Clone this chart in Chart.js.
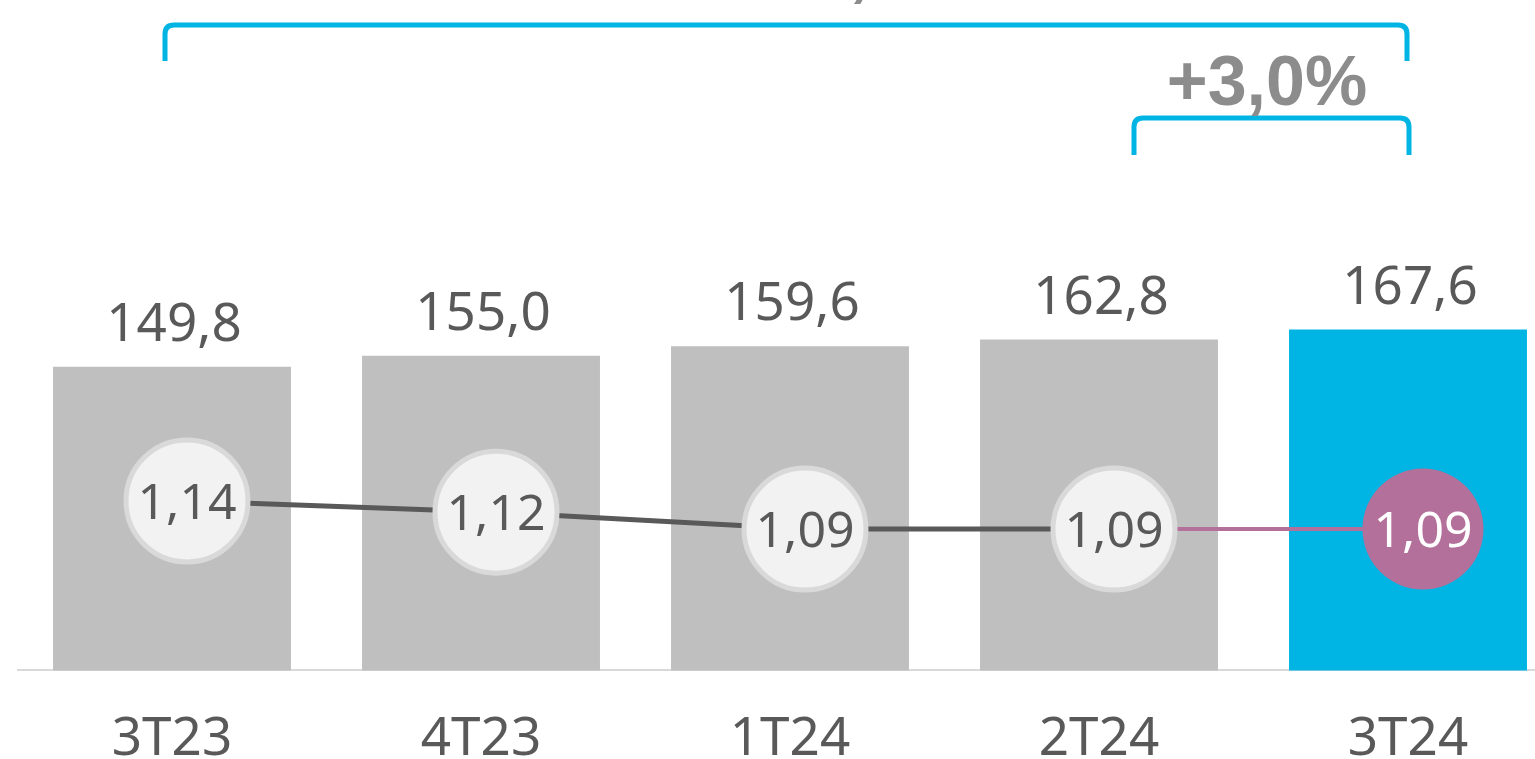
<!DOCTYPE html>
<html>
<head>
<meta charset="utf-8">
<script src="https://cdn.jsdelivr.net/npm/chart.js@4.4.1/dist/chart.umd.min.js"></script>
<style>
  html, body { margin: 0; padding: 0; background: #fff; overflow: hidden; }
  #wrap { width: 1563px; height: 771px; }
</style>
</head>
<body>
<div id="wrap"><canvas id="myChart" width="1563" height="771"></canvas></div>
<script>
// data
const quarters = ['3T23', '4T23', '1T24', '2T24', '3T24'];
const volume = [149.8, 155.0, 159.6, 162.8, 167.6];
const ratio = [1.14, 1.12, 1.09, 1.09, 1.09];
const growthTotal = '+11,9%';
const growthQuarter = '+3,0%';

const fmt = (v, d) => v.toFixed(d).replace('.', ',');

const GREY = '#595959';
const CYAN = '#00b4e4';
const PINK = '#b3709a';
const FONT = "'Noto Sans', sans-serif";
const last = ratio.length - 1;

const labelsPlugin = {
  id: 'labels',
  afterDatasetsDraw(chart) {
    const ctx = chart.ctx;
    ctx.save();
    ctx.textAlign = 'center';
    ctx.textBaseline = 'alphabetic';

    // bar values
    const bars = chart.getDatasetMeta(1).data;
    ctx.font = '53px ' + FONT;
    ctx.fillStyle = GREY;
    bars.forEach((b, i) => {
      ctx.fillText(fmt(volume[i], 1), b.x + 2, b.y - 26);
    });

    // point values
    const pts = chart.getDatasetMeta(0).data;
    ctx.font = '50px ' + FONT;
    pts.forEach((p, i) => {
      ctx.fillStyle = i === last ? '#ffffff' : GREY;
      ctx.fillText(fmt(ratio[i], 2), p.x, p.y + 18);
    });

    // brackets
    const x = chart.scales.x;
    const bracket = (x1, x2, yTop, yBot) => {
      const r = 9;
      ctx.beginPath();
      ctx.moveTo(x1, yBot);
      ctx.lineTo(x1, yTop + r);
      ctx.quadraticCurveTo(x1, yTop, x1 + r, yTop);
      ctx.lineTo(x2 - r, yTop);
      ctx.quadraticCurveTo(x2, yTop, x2, yTop + r);
      ctx.lineTo(x2, yBot);
      ctx.stroke();
    };
    ctx.strokeStyle = CYAN;
    ctx.lineWidth = 5;
    ctx.lineCap = 'butt';
    bracket(x.getPixelForValue(0) - 7, x.getPixelForValue(4) - 1, 25, 61);
    bracket(x.getPixelForValue(3) + 35, x.getPixelForValue(4) + 1, 118, 155);

    ctx.font = 'bold 70px "Liberation Sans", Arial, sans-serif';
    ctx.fillStyle = '#8c8c8c';
    ctx.fillText(growthQuarter, 1267, 105);
    ctx.fillText(growthTotal, 852, -7);
    ctx.restore();
  }
};

new Chart(document.getElementById('myChart'), {
  data: {
    labels: quarters,
    datasets: [
      {
        type: 'line',
        data: ratio.map((v, i) => ({ x: i, y: v })),
        xAxisID: 'x2',
        yAxisID: 'y1',
        order: 0,
        borderColor: GREY,
        borderWidth: 5,
        pointRadius: ratio.map((v, i) => i === last ? 60.5 : 61),
        pointBorderWidth: ratio.map((v, i) => i === last ? 0 : 5),
        pointBackgroundColor: ratio.map((v, i) => i === last ? PINK : '#f2f2f2'),
        pointBorderColor: ratio.map((v, i) => i === last ? PINK : '#d9d9d9'),
        segment: {
          borderColor: c => c.p1DataIndex === last ? PINK : GREY,
          borderWidth: c => c.p1DataIndex === last ? 4 : 5
        }
      },
      {
        type: 'bar',
        data: volume,
        xAxisID: 'x',
        yAxisID: 'y',
        order: 1,
        grouped: false,
        backgroundColor: volume.map((v, i) => i === last ? CYAN : '#bfbfbf'),
        categoryPercentage: 0.77,
        barPercentage: 1
      }
    ]
  },
  options: {
    responsive: false,
    animation: false,
    layout: { autoPadding: false, padding: { left: 17.5, right: 0.5, top: 0, bottom: -39 } },
    plugins: { legend: { display: false }, tooltip: { enabled: false } },
    scales: {
      x: {
        grid: { display: false, drawTicks: false },
        border: { display: true, color: '#d9d9d9', width: 2 },
        ticks: { color: GREY, font: { family: FONT, size: 53 }, padding: 38 }
      },
      // line markers sit slightly right of the bar centres
      x2: { type: 'linear', display: false, min: -0.5485, max: 4.4515 },
      y: { display: false, min: 4, max: 325.8 },
      y1: { display: false, min: 0.838, max: 2.033 }
    }
  },
  plugins: [labelsPlugin]
});
</script>
</body>
</html>
